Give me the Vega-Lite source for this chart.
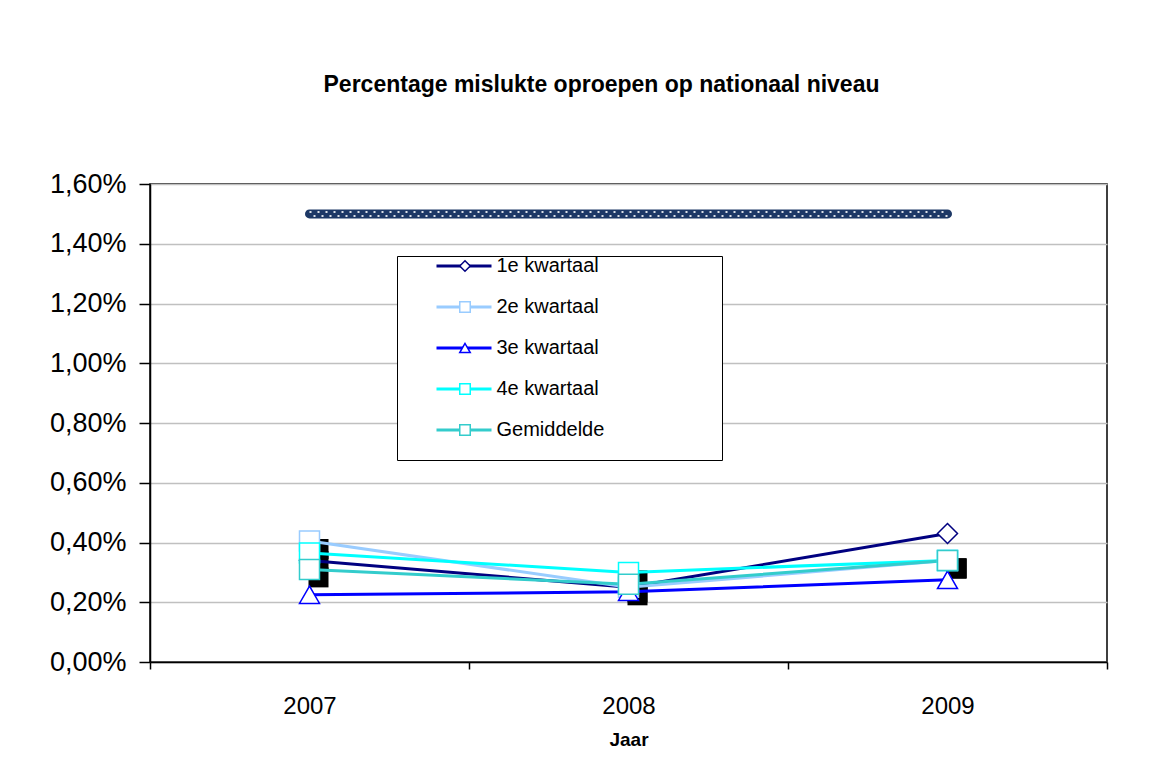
{
  "$schema": "https://vega.github.io/schema/vega-lite/v6.json",
  "autosize": "none",
  "width": 957,
  "height": 478,
  "padding": {"left": 150, "top": 184, "right": 55, "bottom": 105},
  "background": "white",
  "config": {
    "font": "Liberation Sans",
    "view": {"stroke": "#000000", "strokeWidth": 1.5},
    "axis": {"labelColor": "#000000", "titleColor": "#000000"}
  },
  "title": {
    "text": "Percentage mislukte oproepen op nationaal niveau",
    "font": "Liberation Sans",
    "fontSize": 23,
    "fontWeight": "bold",
    "color": "#000000",
    "anchor": "middle",
    "frame": "group",
    "baseline": "alphabetic",
    "offset": 55,
    "dx": -27
  },
  "datasets": {
    "kwartalen": [
      {"jaar": "2007", "serie": "1e kwartaal", "pct": 0.0034},
      {"jaar": "2008", "serie": "1e kwartaal", "pct": 0.0025},
      {"jaar": "2009", "serie": "1e kwartaal", "pct": 0.0043},
      {"jaar": "2007", "serie": "2e kwartaal", "pct": 0.00405},
      {"jaar": "2008", "serie": "2e kwartaal", "pct": 0.0025},
      {"jaar": "2009", "serie": "2e kwartaal", "pct": 0.0034},
      {"jaar": "2007", "serie": "3e kwartaal", "pct": 0.00225},
      {"jaar": "2008", "serie": "3e kwartaal", "pct": 0.00235},
      {"jaar": "2009", "serie": "3e kwartaal", "pct": 0.00275},
      {"jaar": "2007", "serie": "4e kwartaal", "pct": 0.00365},
      {"jaar": "2008", "serie": "4e kwartaal", "pct": 0.003},
      {"jaar": "2009", "serie": "4e kwartaal", "pct": 0.0034},
      {"jaar": "2007", "serie": "Gemiddelde", "pct": 0.0031},
      {"jaar": "2008", "serie": "Gemiddelde", "pct": 0.0026},
      {"jaar": "2009", "serie": "Gemiddelde", "pct": 0.0034}
    ],
    "norm": [
      {"jaar": "2007", "pct": 0.015},
      {"jaar": "2008", "pct": 0.015},
      {"jaar": "2009", "pct": 0.015}
    ]
  },
  "encoding": {
    "x": {
      "field": "jaar",
      "type": "ordinal",
      "scale": {"type": "band", "domain": ["2007", "2008", "2009"], "paddingInner": 0, "paddingOuter": 0},
      "axis": {
        "title": "Jaar",
        "titleFontSize": 19,
        "titleFontWeight": "bold",
        "titlePadding": 12,
        "labelAngle": 0,
        "labelFontSize": 24,
        "labelPadding": 25,
        "tickBand": "extent",
        "tickSize": 7,
        "tickColor": "#000000",
        "tickWidth": 1.5,
        "domainColor": "#000000",
        "domainWidth": 1.5,
        "grid": false
      }
    },
    "y": {
      "field": "pct",
      "type": "quantitative",
      "scale": {"domain": [0, 0.016], "nice": false, "zero": true},
      "axis": {
        "title": null,
        "values": [0, 0.002, 0.004, 0.006, 0.008, 0.01, 0.012, 0.014, 0.016],
        "labelExpr": "replace(format(datum.value, '.2%'), '.', ',')",
        "labelFontSize": 27,
        "labelPadding": 13,
        "tickSize": 11,
        "tickColor": "#000000",
        "tickWidth": 1.5,
        "domainColor": "#000000",
        "domainWidth": 1.5,
        "grid": true,
        "gridColor": "#c0c0c0",
        "gridWidth": 1.5
      }
    }
  },
  "layer": [
    {
      "data": {"name": "norm"},
      "mark": {"type": "line", "color": "#1d3866", "strokeWidth": 9, "strokeCap": "round"}
    },
    {
      "data": {"name": "norm"},
      "mark": {"type": "line", "color": "#ffffff", "opacity": 0.85, "strokeWidth": 2, "strokeDash": [2, 6], "yOffset": -2}
    },
    {
      "data": {"name": "norm"},
      "mark": {"type": "line", "color": "#ffffff", "opacity": 0.85, "strokeWidth": 2, "strokeDash": [2, 6], "strokeDashOffset": 4, "yOffset": 2}
    },
    {
      "data": {"name": "kwartalen"},
      "transform": [{"filter": {"field": "serie", "oneOf": ["2e kwartaal", "4e kwartaal", "Gemiddelde"]}}],
      "mark": {"type": "point", "shape": "square", "filled": true, "color": "#000000", "opacity": 1, "size": 400, "xOffset": 9, "yOffset": 8}
    },
    {
      "data": {"name": "kwartalen"},
      "mark": {"type": "line", "strokeWidth": 3},
      "encoding": {
        "stroke": {
          "field": "serie",
          "type": "nominal",
          "scale": {"range": ["#000080", "#99ccff", "#0000ff", "#00ffff", "#33cccc"]},
          "legend": {
            "orient": "none",
            "legendX": 247,
            "legendY": 72,
            "zindex": 1,
            "padding": 0,
            "strokeColor": "#000000",
            "fillColor": "#ffffff",
            "title": "\u00a0",
            "titleOrient": "bottom",
            "titleFontSize": 16,
            "titlePadding": 4,
            "symbolType": "M-5,0H5M45.8,0",
            "symbolSize": 121,
            "symbolStrokeWidth": 3,
            "symbolOffset": 57,
            "labelOffset": 22.5,
            "labelFontSize": 20,
            "labelColor": "#000000",
            "rowPadding": 21
          }
        }
      }
    },
    {
      "data": {"name": "kwartalen"},
      "mark": {"type": "point", "filled": false, "fill": "#ffffff", "opacity": 1, "size": 400, "strokeWidth": 1.5},
      "encoding": {
        "color": {
          "field": "serie",
          "type": "nominal",
          "scale": {
            "domain": ["1e kwartaal", "2e kwartaal", "3e kwartaal", "4e kwartaal", "Gemiddelde"],
            "range": ["#000080", "#99ccff", "#0000ff", "#00ffff", "#33cccc"]
          },
          "legend": {
            "orient": "none",
            "legendX": 247,
            "legendY": 72,
            "zindex": 2,
            "padding": 0,
            "title": null,
            "symbolSize": 110,
            "symbolStrokeWidth": 1.5,
            "symbolOffset": 58,
            "symbolFillColor": "#ffffff",
            "labelFontSize": 20,
            "labelExpr": "''",
            "rowPadding": 21
          }
        },
        "shape": {
          "field": "serie",
          "type": "nominal",
          "scale": {
            "domain": ["1e kwartaal", "2e kwartaal", "3e kwartaal", "4e kwartaal", "Gemiddelde"],
            "range": ["diamond", "square", "triangle-up", "square", "square"]
          },
          "legend": {
            "orient": "none",
            "legendX": 247,
            "legendY": 72,
            "zindex": 2,
            "padding": 0,
            "title": null,
            "symbolSize": 110,
            "symbolStrokeWidth": 1.5,
            "symbolOffset": 58,
            "symbolFillColor": "#ffffff",
            "labelFontSize": 20,
            "labelExpr": "''",
            "rowPadding": 21
          }
        }
      }
    }
  ]
}
